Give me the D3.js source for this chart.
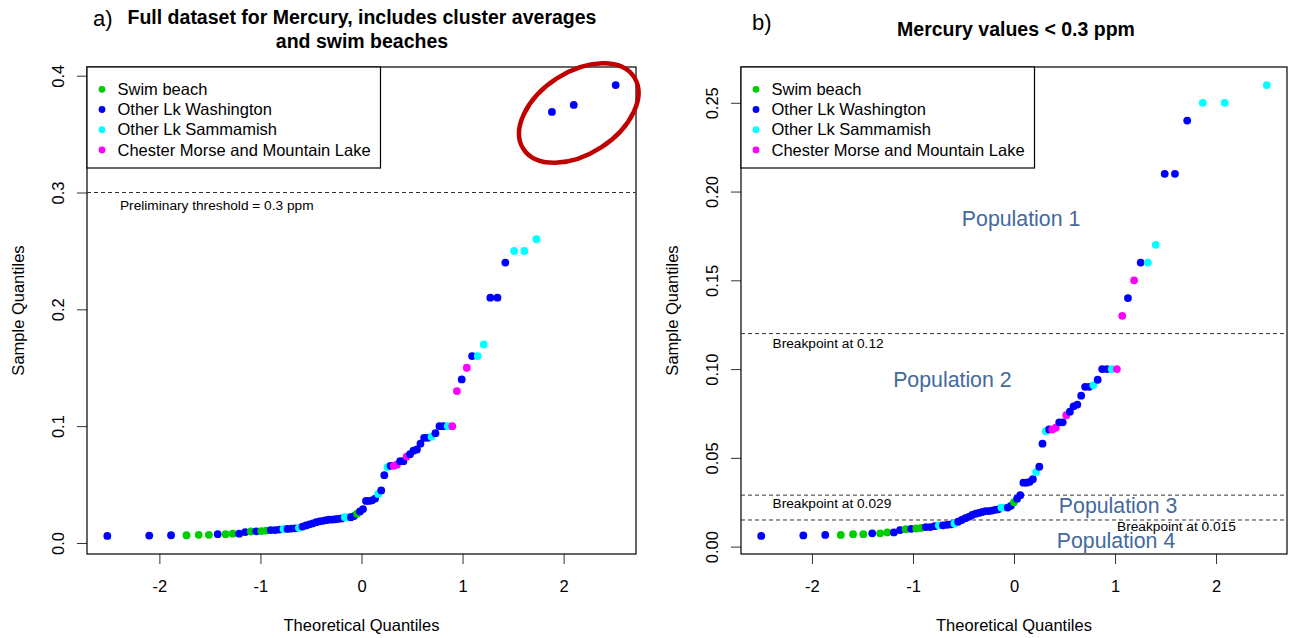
<!DOCTYPE html>
<html>
<head>
<meta charset="utf-8">
<script src="https://cdn.jsdelivr.net/npm/d3@7"></script>
<style>
  html, body { margin: 0; padding: 0; background: #ffffff; }
  svg { display: block; font-family: "Liberation Sans", Arial, Helvetica, sans-serif; }
</style>
</head>
<body>
<svg id="chart" width="1292" height="638"></svg>
<script>
// Site groups and their point colours
const seriesNames = ["Swim beach", "Other Lk Washington", "Other Lk Sammamish", "Chester Morse and Mountain Lake"];
const seriesColors = ["#00CD00", "#0000FF", "#00FFFF", "#FF00FF"];

// Mercury concentrations (ppm), sorted ascending, full dataset
const mercuryPpm = [
  0.006, 0.0063, 0.0066, 0.0066, 0.007, 0.007, 0.0075, 0.0075, 0.008, 0.008,
  0.0093, 0.0098, 0.010, 0.0102, 0.0105, 0.011, 0.011, 0.0115, 0.012, 0.012,
  0.0123, 0.0125, 0.013, 0.014, 0.015, 0.016, 0.0168, 0.0178, 0.0185, 0.019,
  0.0195, 0.020, 0.020, 0.0203, 0.0207, 0.021, 0.022, 0.022, 0.022, 0.023,
  0.025, 0.027, 0.029, 0.036, 0.036, 0.0365, 0.038, 0.042, 0.045, 0.058,
  0.065, 0.066, 0.066, 0.067, 0.070, 0.070, 0.074, 0.076, 0.079, 0.080,
  0.085, 0.090, 0.090, 0.091, 0.094, 0.100, 0.100, 0.100, 0.100, 0.130,
  0.140, 0.150, 0.160, 0.160, 0.170, 0.210, 0.210, 0.240, 0.250, 0.250,
  0.260, 0.369, 0.375, 0.392
];
// Site group of each sample (index into seriesNames), same order as mercuryPpm
const siteGroup = [
  1, 1, 1, 0, 0, 0, 1, 0, 0, 1,
  1, 0, 1, 0, 0, 1, 1, 1, 2, 1,
  1, 1, 2, 1, 1, 1, 1, 1, 1, 1,
  1, 1, 1, 1, 1, 1, 2, 2, 1, 1,
  0, 1, 1, 1, 1, 1, 1, 2, 1, 1,
  2, 1, 3, 3, 1, 1, 3, 1, 1, 1,
  1, 1, 1, 2, 1, 1, 1, 2, 3, 3,
  1, 3, 1, 2, 2, 1, 1, 1, 2, 2,
  2, 1, 1, 1
];

// Axis ticks
const xTickValues = [-2, -1, 0, 1, 2];
const yTicksFull = [0, 0.1, 0.2, 0.3, 0.4];
const yTicksLow = [0, 0.05, 0.10, 0.15, 0.20, 0.25];

// Reference levels (ppm)
const thresholdPpm = 0.3;
const breakpointsPpm = [0.12, 0.029, 0.015];
const populationLabels = ["Population 1", "Population 2", "Population 3", "Population 4"];

// Inverse standard normal CDF (Acklam's rational approximation)
function qnorm(p) {
  const a = [-3.969683028665376e+01, 2.209460984245205e+02, -2.759285104469687e+02, 1.383577518672690e+02, -3.066479806614716e+01, 2.506628277459239e+00];
  const b = [-5.447609879822406e+01, 1.615858368580409e+02, -1.556989798598866e+02, 6.680131188771972e+01, -1.328068155288572e+01];
  const c = [-7.784894002430293e-03, -3.223964580411365e-01, -2.400758277161838e+00, -2.549732539343734e+00, 4.374664141464968e+00, 2.938163982698783e+00];
  const d = [7.784695709041462e-03, 3.224671290700398e-01, 2.445134137142996e+00, 3.754408661907416e+00];
  const pl = 0.02425, ph = 1 - pl;
  let q, r;
  if (p < pl) {
    q = Math.sqrt(-2 * Math.log(p));
    return (((((c[0]*q + c[1])*q + c[2])*q + c[3])*q + c[4])*q + c[5]) / ((((d[0]*q + d[1])*q + d[2])*q + d[3])*q + 1);
  }
  if (p > ph) {
    q = Math.sqrt(-2 * Math.log(1 - p));
    return -(((((c[0]*q + c[1])*q + c[2])*q + c[3])*q + c[4])*q + c[5]) / ((((d[0]*q + d[1])*q + d[2])*q + d[3])*q + 1);
  }
  q = p - 0.5; r = q * q;
  return (((((a[0]*r + a[1])*r + a[2])*r + a[3])*r + a[4])*r + a[5])*q / (((((b[0]*r + b[1])*r + b[2])*r + b[3])*r + b[4])*r + 1);
}

const svg = d3.select("#chart");
const BASE = 16.5;      // base text size
const SMALL = 13.7;     // annotation text size

function padRange(e) { const r = e[1] - e[0]; return [e[0] - 0.04 * r, e[1] + 0.04 * r]; }

function drawPanel(cfg) {
  const g = svg.append("g");
  const vals = cfg.values, grps = cfg.groups;
  const n = vals.length;
  const a = n <= 10 ? 3 / 8 : 0.5;
  const pts = vals.map((v, i) => ({ v: v, grp: grps[i], z: qnorm((i + 1 - a) / (n + 1 - 2 * a)) }));

  const x = d3.scaleLinear().domain(padRange(d3.extent(pts, d => d.z))).range([cfg.left, cfg.right]);
  const y = d3.scaleLinear().domain(padRange(d3.extent(pts, d => d.v))).range([cfg.bottom, cfg.top]);

  // x axis
  const xa = g.append("g").attr("transform", `translate(0,${cfg.bottom})`)
    .call(d3.axisBottom(x).tickValues(xTickValues).tickSize(10).tickFormat(d => String(d)));
  xa.select(".domain").remove();
  xa.selectAll(".tick line").attr("stroke", "#333");
  xa.selectAll(".tick text").attr("y", 38).attr("dy", null)
    .attr("font-size", BASE).attr("font-family", null).attr("fill", "#000");

  // y axis, labels parallel to the axis
  const ya = g.append("g").attr("transform", `translate(${cfg.left},0)`)
    .call(d3.axisLeft(y).tickValues(cfg.yTicks).tickSize(10).tickFormat(d3.format(cfg.yFormat)));
  ya.select(".domain").remove();
  ya.selectAll(".tick line").attr("stroke", "#333");
  ya.selectAll(".tick text")
    .attr("x", 0).attr("y", 0).attr("dy", null)
    .attr("text-anchor", "middle")
    .attr("transform", "translate(-23,0) rotate(-90)")
    .attr("font-size", BASE).attr("font-family", null).attr("fill", "#000");

  // axis titles
  g.append("text")
    .attr("x", (cfg.left + cfg.right) / 2).attr("y", 631)
    .attr("text-anchor", "middle").attr("font-size", BASE)
    .text("Theoretical Quantiles");
  const cy = (cfg.top + cfg.bottom) / 2;
  g.append("text")
    .attr("transform", `translate(${cfg.left - 63.5},${cy}) rotate(-90)`)
    .attr("text-anchor", "middle").attr("font-size", BASE)
    .text("Sample Quantiles");

  // plot box
  g.append("rect")
    .attr("x", cfg.left).attr("y", cfg.top)
    .attr("width", cfg.right - cfg.left).attr("height", cfg.bottom - cfg.top)
    .attr("fill", "none").attr("stroke", "#000").attr("stroke-width", 1.2);

  // horizontal reference lines
  g.selectAll("line.ref").data(cfg.refLines).enter().append("line")
    .attr("class", "ref")
    .attr("x1", cfg.left).attr("x2", cfg.right)
    .attr("y1", d => y(d)).attr("y2", d => y(d))
    .attr("stroke", "#333").attr("stroke-width", 1).attr("stroke-dasharray", "4,3");

  // Q-Q points
  g.selectAll("circle.pt").data(pts).enter().append("circle")
    .attr("class", "pt")
    .attr("cx", d => x(d.z)).attr("cy", d => y(d.v)).attr("r", 3.9)
    .attr("fill", d => seriesColors[d.grp]);

  // legend
  const lg = g.append("g").attr("transform", `translate(${cfg.left},${cfg.top})`);
  lg.append("rect").attr("x", 0).attr("y", 0).attr("width", 293.5).attr("height", 101)
    .attr("fill", "#fff").attr("stroke", "#000").attr("stroke-width", 1.2);
  seriesNames.forEach((name, i) => {
    const ry = 22.3 + i * 20.2;
    lg.append("circle").attr("cx", 15).attr("cy", ry).attr("r", 3.4).attr("fill", seriesColors[i]);
    lg.append("text").attr("x", 30.5).attr("y", ry).attr("dy", "0.35em")
      .attr("font-size", BASE).text(name);
  });

  // annotations in data coordinates
  cfg.notes.forEach(nt => {
    g.append("text")
      .attr("x", x(nt.z)).attr("y", y(nt.v)).attr("dy", "0.35em")
      .attr("text-anchor", nt.anchor || "start")
      .attr("font-size", nt.size || SMALL)
      .attr("fill", nt.color || "#000")
      .text(nt.text);
  });

  return { g, x, y };
}

// Panel a: full dataset
const panelA = drawPanel({
  left: 87, right: 636, top: 67, bottom: 554,
  values: mercuryPpm, groups: siteGroup,
  yTicks: yTicksFull, yFormat: ".1f",
  refLines: [thresholdPpm],
  notes: [
    { z: -2.39, v: 0.289, text: "Preliminary threshold = " + thresholdPpm + " ppm" }
  ]
});

// circle round the samples above the threshold
panelA.g.append("ellipse")
  .attr("transform", `translate(${panelA.x(2.15)},${panelA.y(0.368)}) rotate(-33)`)
  .attr("rx", 66).attr("ry", 41)
  .attr("fill", "none").attr("stroke", "#C00000").attr("stroke-width", 4.5);

// Panel b: values below the threshold
const lowIdx = mercuryPpm.map((v, i) => i).filter(i => mercuryPpm[i] < thresholdPpm);
const popColor = "#44699c";
drawPanel({
  left: 741, right: 1287, top: 67, bottom: 554,
  values: lowIdx.map(i => mercuryPpm[i]), groups: lowIdx.map(i => siteGroup[i]),
  yTicks: yTicksLow, yFormat: ".2f",
  refLines: breakpointsPpm,
  notes: [
    { z: -2.39, v: 0.1146, text: "Breakpoint at " + breakpointsPpm[0] },
    { z: -2.39, v: 0.0247, text: "Breakpoint at " + breakpointsPpm[1] },
    { z: 1.02, v: 0.0114, text: "Breakpoint at " + breakpointsPpm[2] },
    { z: 0.07, v: 0.185, text: populationLabels[0], anchor: "middle", size: 21.3, color: popColor },
    { z: -0.61, v: 0.094, text: populationLabels[1], anchor: "middle", size: 21.3, color: popColor },
    { z: 1.03, v: 0.023, text: populationLabels[2], anchor: "middle", size: 21.3, color: popColor },
    { z: 1.01, v: 0.0035, text: populationLabels[3], anchor: "middle", size: 21.3, color: popColor }
  ]
});

// titles
svg.append("text").attr("x", 93).attr("y", 26).attr("font-size", 22).text("a)");
svg.append("text").attr("x", 362).attr("y", 24).attr("text-anchor", "middle")
  .attr("font-size", 19.5).attr("font-weight", "bold")
  .text("Full dataset for Mercury, includes cluster averages");
svg.append("text").attr("x", 362).attr("y", 48).attr("text-anchor", "middle")
  .attr("font-size", 19.5).attr("font-weight", "bold")
  .text("and swim beaches");
svg.append("text").attr("x", 752).attr("y", 30).attr("font-size", 22).text("b)");
svg.append("text").attr("x", 1016).attr("y", 36).attr("text-anchor", "middle")
  .attr("font-size", 19.5).attr("font-weight", "bold")
  .text("Mercury values < " + thresholdPpm + " ppm");
</script>
</body>
</html>
